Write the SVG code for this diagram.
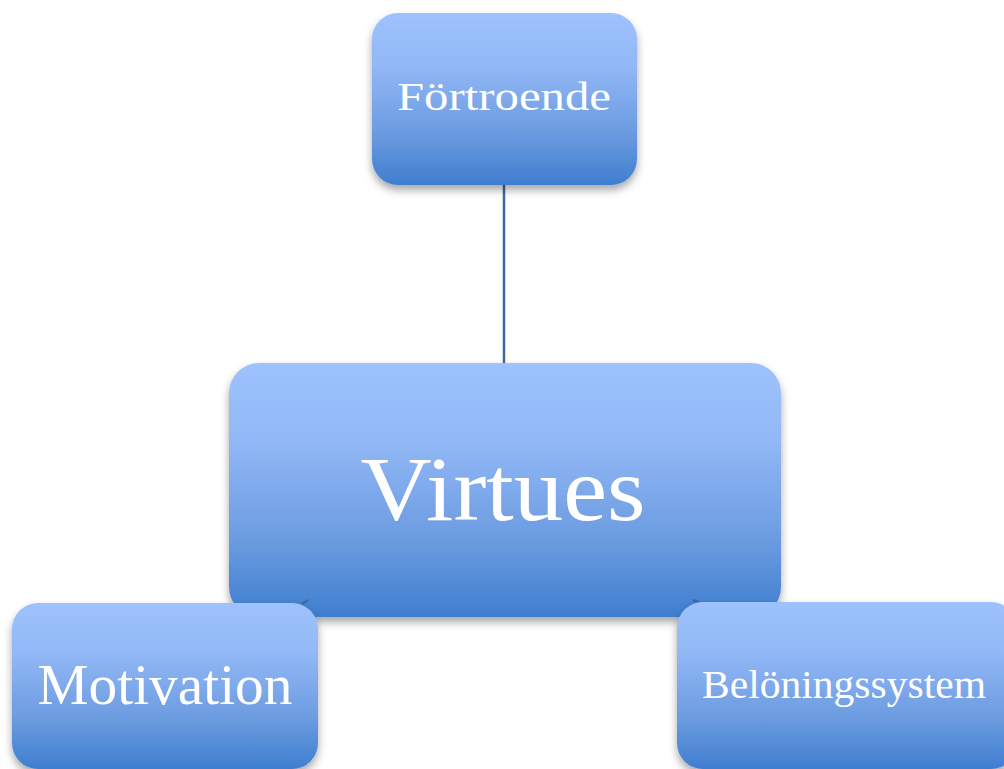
<svg xmlns="http://www.w3.org/2000/svg" width="1004" height="769" viewBox="0 0 1004 769">
<style>
.box{fill:url(#g);filter:url(#sh)}
.lbl{font-family:"Liberation Serif","DejaVu Serif",serif;fill:#ffffff;text-anchor:middle}
.con{stroke:#3d689f;stroke-width:2.5;fill:none}
</style>
<defs>
<linearGradient id="g" x1="0" y1="0" x2="0" y2="1">
<stop offset="0" stop-color="#9dc2fd"/>
<stop offset="0.3" stop-color="#92b8f6"/>
<stop offset="0.7" stop-color="#6b9be0"/>
<stop offset="1" stop-color="#3f7ecf"/>
</linearGradient>
<filter id="sh" x="-10%" y="-10%" width="120%" height="130%">
<feDropShadow dx="0" dy="5" stdDeviation="4" flood-color="#000" flood-opacity="0.35"/>
</filter>
</defs>
<rect width="1004" height="769" fill="#ffffff"/>
<g id="node-virtues">
<rect class="box" x="229" y="363" width="552" height="254" rx="30"/>
<text class="lbl" x="503" y="520" font-size="92" textLength="285" lengthAdjust="spacingAndGlyphs">Virtues</text>
</g>
<g id="connectors">
<line class="con" x1="504" y1="185" x2="504" y2="363"/>
<line class="con" x1="302" y1="604" x2="308" y2="600"/>
<line class="con" x1="693" y1="600" x2="699" y2="602"/>
</g>
<g id="node-fortroende">
<rect class="box" x="372" y="13" width="265" height="172" rx="26"/>
<text class="lbl" x="504" y="110" font-size="41" textLength="214" lengthAdjust="spacingAndGlyphs">Förtroende</text>
</g>
<g id="node-motivation">
<rect class="box" x="12" y="603" width="306" height="166" rx="26"/>
<text class="lbl" x="165" y="704" font-size="56" textLength="255" lengthAdjust="spacingAndGlyphs">Motivation</text>
</g>
<g id="node-beloningssystem">
<rect class="box" x="677" y="602" width="340" height="167" rx="26"/>
<text class="lbl" x="844" y="698" font-size="39" textLength="284" lengthAdjust="spacingAndGlyphs">Belöningssystem</text>
</g>
</svg>
